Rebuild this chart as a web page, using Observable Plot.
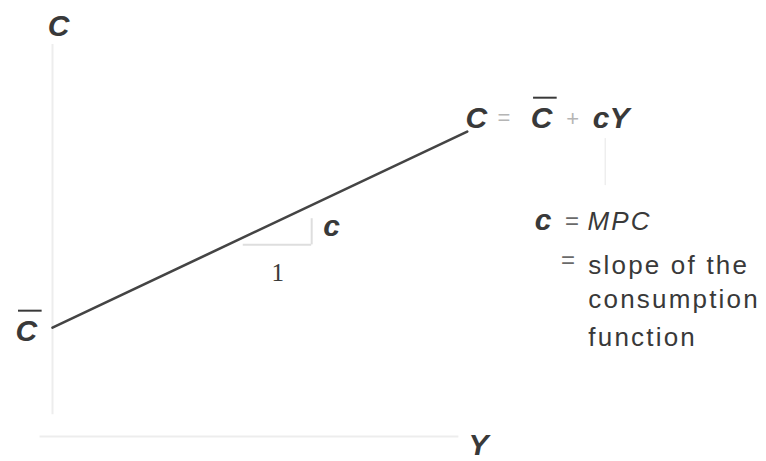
<!DOCTYPE html>
<html>
<head>
<meta charset="utf-8">
<script src="https://cdn.jsdelivr.net/npm/d3@7"></script>
<script src="https://cdn.jsdelivr.net/npm/@observablehq/plot@0.6"></script>
<style>
  html, body { margin: 0; padding: 0; background: #fff; }
  #chart svg { display: block; }
</style>
</head>
<body>
<div id="chart"></div>
<script>
// Keynesian consumption function C = Cbar + c·Y
const incomeRange = [0, 100];      // Y from origin to end of line
const autonomousC = 25;            // Cbar, vertical intercept
const mpc = 0.45;                  // c, slope of the line

// slope triangle: run from Y=46 to Y=62.5, rise drawn up to C=50
const triRun = [46, 62.5];
const triBase = 44;
const triTop = 50;

// text colour
const ink = "#393939";

const line = incomeRange.map(Y => ({Y, C: autonomousC + mpc * Y}));

// bold italic symbols
const symbols = [
  {text: "C", Y: 1.45, C: 92.0, anchor: "middle"},   // vertical axis label
  {text: "Y", Y: 102.7, C: -4.3, anchor: "middle"},  // horizontal axis label
  {text: "C", Y: 99.6, C: 70.9, anchor: "start"},    // left side of equation
  {text: "cY", Y: 130.3, C: 70.9, anchor: "start"},
  {text: "c", Y: 65.3, C: 46.1, anchor: "start"},    // rise of slope triangle
  {text: "c", Y: 116.3, C: 47.3, anchor: "start"}    // c = MPC
];
// symbols carrying a bar (Cbar)
const barred = [
  {text: "C", Y: -8.9, C: 22.0},
  {text: "C", Y: 115.3, C: 70.9}
];
// light operators in the equation
const operators = [
  {text: "=", Y: 107.3, C: 71.6},
  {text: "+", Y: 123.9, C: 71.2}
];
// description of the slope
const equals = [
  {text: "=", Y: 123.6, C: 47.6},
  {text: "=", Y: 122.6, C: 38.6}
];
const notes = [
  {text: "MPC", Y: 129.0, C: 47.3, italic: true},
  {text: "slope of the", Y: 129.2, C: 37.4, italic: false},
  {text: "consumption", Y: 129.2, C: 29.4, italic: false},
  {text: "function", Y: 129.2, C: 20.7, italic: false}
];

const symbolFont = {
  fontFamily: "Liberation Sans", fontSize: 30, fontWeight: "bold", fontStyle: "italic", fill: ink
};

const chart = Plot.plot({
  width: 766,
  height: 461,
  margin: 0,
  x: {domain: [0, 100], range: [52, 466.7], axis: null},
  y: {domain: [0, 90], range: [436, 44], axis: null},
  marks: [
    // faint axes
    Plot.ruleX([0], {y1: 5, y2: 90, stroke: "#ededed", strokeWidth: 2}),
    Plot.ruleY([0], {x1: -3, x2: 98, stroke: "#ededed", strokeWidth: 2}),
    // slope triangle
    Plot.ruleY([triBase], {x1: triRun[0], x2: triRun[1], stroke: "#dedede", strokeWidth: 2}),
    Plot.ruleX([triRun[1]], {y1: triBase, y2: triTop, stroke: "#dedede", strokeWidth: 2}),
    // faint tick under the equation
    Plot.ruleX([133.3], {y1: 57.6, y2: 68.4, stroke: "#eeeeee", strokeWidth: 1.5}),
    // consumption function
    Plot.line(line, {x: "Y", y: "C", stroke: "#444", strokeWidth: 2.6}),
    // labels
    Plot.text(symbols.filter(d => d.anchor === "middle"), {
      x: "Y", y: "C", text: "text", textAnchor: "middle", lineAnchor: "bottom", ...symbolFont
    }),
    Plot.text(symbols.filter(d => d.anchor === "start"), {
      x: "Y", y: "C", text: "text", textAnchor: "start", lineAnchor: "bottom", ...symbolFont
    }),
    Plot.text(barred, {
      x: "Y", y: "C", text: "text", textAnchor: "start", lineAnchor: "bottom", ...symbolFont
    }),
    // bars over Cbar
    Plot.ruleY(barred, {
      y: "C", x1: d => d.Y + 0.7, x2: d => d.Y + 6.4, dy: -30,
      stroke: ink, strokeWidth: 2
    }),
    Plot.text(operators, {
      x: "Y", y: "C", text: "text", textAnchor: "start", lineAnchor: "bottom",
      fontFamily: "Liberation Sans", fontSize: 22, fill: "#b5b5b5"
    }),
    Plot.text(["1"], {
      x: [54.3], y: [35.8], text: d => d, textAnchor: "middle", lineAnchor: "bottom",
      fontFamily: "Liberation Serif", fontSize: 25, fill: ink
    }),
    Plot.text(equals, {
      x: "Y", y: "C", text: "text", textAnchor: "start", lineAnchor: "bottom",
      fontFamily: "Liberation Sans", fontSize: 24, fill: "#6a6a6a"
    }),
    Plot.text(notes.filter(d => !d.italic), {
      x: "Y", y: "C", text: "text", textAnchor: "start", lineAnchor: "bottom",
      fontFamily: "Liberation Sans", fontSize: 26, fill: ink, ariaDescription: "notes"
    }),
    Plot.text(notes.filter(d => d.italic), {
      x: "Y", y: "C", text: "text", textAnchor: "start", lineAnchor: "bottom",
      fontFamily: "Liberation Sans", fontSize: 26, fontStyle: "italic", fill: ink, ariaDescription: "notes"
    })
  ]
});

// widen the tracking of the descriptive text
d3.select(chart).selectAll("g[aria-description=notes] text").style("letter-spacing", "2.2px");

document.getElementById("chart").appendChild(chart);
</script>
</body>
</html>
